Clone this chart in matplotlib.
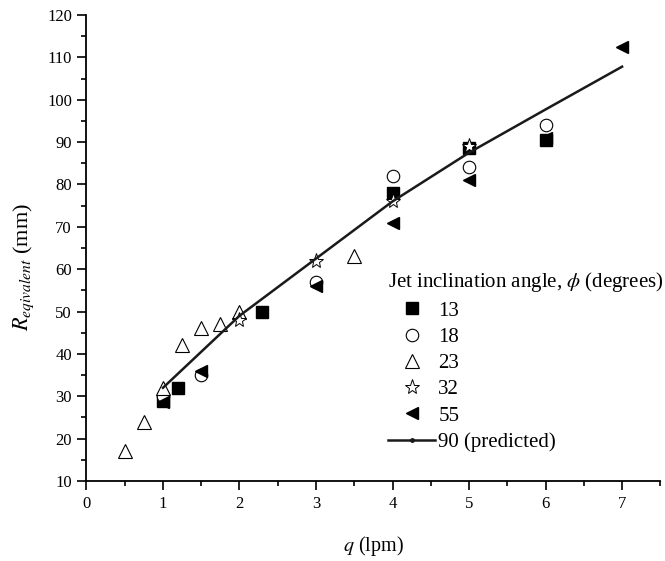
import numpy as np
import matplotlib
matplotlib.use('Agg')
import matplotlib.pyplot as plt
from matplotlib.ticker import MultipleLocator

plt.rcParams['font.family'] = ['Liberation Serif', 'DejaVu Serif']
plt.rcParams['mathtext.fontset'] = 'stix'

# data (q in lpm, R in mm)
q_13 = [1.0, 1.2, 2.3, 4.0, 5.0, 6.0]
r_13 = [29.0, 32.0, 50.0, 78.0, 88.5, 90.5]

q_18 = [1.0, 1.5, 3.0, 4.0, 5.0, 6.0]
r_18 = [30.0, 35.0, 57.0, 82.0, 84.0, 94.0]

q_23 = [0.5, 0.75, 1.0, 1.25, 1.5, 1.75, 2.0, 3.5]
r_23 = [17.0, 24.0, 32.0, 42.0, 46.0, 47.0, 50.0, 63.0]

q_32 = [2.0, 3.0, 4.0, 5.0]
r_32 = [48.0, 62.0, 76.0, 89.0]

q_55 = [1.0, 1.5, 3.0, 4.0, 5.0, 6.0, 7.0]
r_55 = [28.7, 36.0, 56.0, 71.0, 81.0, 91.0, 112.5]

q_90 = [1.0, 1.5, 2.0, 3.0, 4.0, 5.0, 6.0, 7.0]
r_90 = [32.0, 40.5, 49.0, 62.5, 76.0, 87.5, 97.7, 107.8]

fig = plt.figure(figsize=(6.65, 5.61), dpi=100)
ax = fig.add_axes([0.130, 0.1426, 0.863, 0.8307])

ax.plot(q_13, r_13, 's', color='black', ms=8, label='13')
ax.plot(q_18, r_18, 'o', mfc='white', mec='black', mew=0.8, ms=9, label='18')
ax.plot(q_23, r_23, '^', mfc='white', mec='black', mew=0.8, ms=10, label='23')
ax.plot(q_32, r_32, '*', mfc='white', mec='black', mew=0.7, ms=11, label='32')
ax.plot(q_55, r_55, '<', color='black', ms=9, label='55')
ax.plot(q_90, r_90, '-', color='#1a1a1a', lw=1.8, label='90 (predicted)')

ax.set_xlim(0, 7.5)
ax.set_ylim(10, 120)
ax.xaxis.set_major_locator(MultipleLocator(1))
ax.xaxis.set_minor_locator(MultipleLocator(0.5))
ax.yaxis.set_major_locator(MultipleLocator(10))
ax.yaxis.set_minor_locator(MultipleLocator(5))
ax.tick_params(which='major', direction='out', length=6.5, width=1.2,
               labelsize=12, pad=4)
ax.tick_params(which='minor', direction='out', length=3.5, width=1.2)
for s in ['top', 'right']:
    ax.spines[s].set_visible(False)
for s in ['left', 'bottom']:
    ax.spines[s].set_linewidth(1.3)

ax.set_xlabel('$q$ (lpm)', fontsize=14.5, labelpad=16)
ax.set_ylabel('$R_{eqivalent}$ (mm)', fontsize=16)
ax.yaxis.set_label_coords(-0.088, 0.459)

leg = ax.legend(title='Jet inclination angle, $\\phi$ (degrees)',
                loc='upper left', bbox_to_anchor=(0.5255, 0.452),
                frameon=False, fontsize=15, title_fontsize=15,
                handlelength=2.26, handletextpad=0.15, labelspacing=0.32,
                borderpad=0, borderaxespad=0, alignment='left')
# small dot in the middle of the predicted-line handle
h = leg.legend_handles[5]
h.set_marker('o')
h.set_markersize(2.5)
h.set_markevery([1])

fig.savefig('out.png', dpi=100)
